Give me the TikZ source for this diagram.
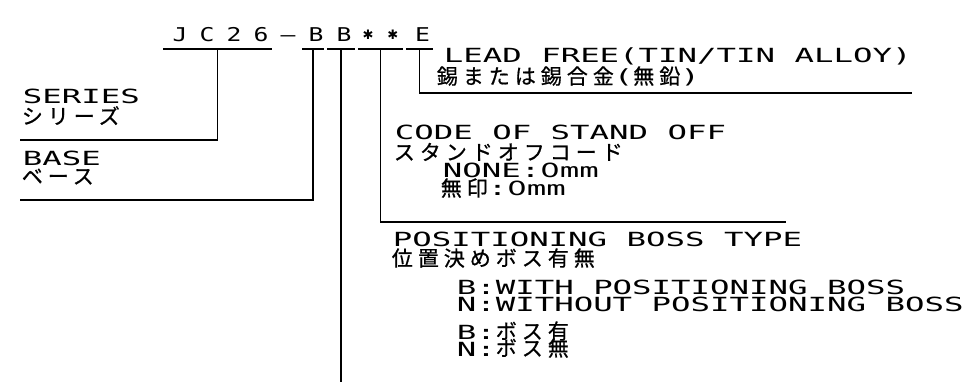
\documentclass[tikz,border=0pt]{standalone}
\usepackage{fontspec}
\setmainfont{DejaVu Sans Mono}[FakeStretch=1.66]
\newfontfamily\jp{Noto Sans CJK JP}[LetterSpace=23.8,FakeBold=0.8]
\newfontfamily\codefont{DejaVu Sans Mono}[FakeStretch=1.3,LetterSpace=64]
\newfontfamily\digitfont{DejaVu Sans}[FakeStretch=1.57]
\newfontfamily\starfont{DejaVu Sans}
\usetikzlibrary{positioning}

\begin{document}
\begin{tikzpicture}[x=1pt,y=-1pt,line width=1.7pt,
    lbl/.style={anchor=base west,inner sep=0pt,font=\fontsize{19.5}{24}\selectfont},
    jlbl/.style={lbl,font=\fontsize{21}{24}\selectfont},
    part/.style={anchor=base,inner sep=0pt,text depth=6pt,font=\fontsize{19}{22}\selectfont\codefont}]
    \useasboundingbox (0,0) rectangle (970,382);
    % part number
    \node[part] (jc) at (217.5,42) {\kern6pt JC26};
    \node[part] (dash) at (285,42) {\kern6pt —};
    \node[part] (b1) at (313,42) {\kern6pt B};
    \node[part] (b2) at (341,42) {\kern6pt B};
    \node[part] (st) at (380.5,42) {\starfont\fontsize{13}{13}\selectfont\raisebox{2pt}{✱\hspace{14pt}✱}};
    \node[part] (e) at (419.5,42) {\kern6pt E};
    \draw (jc.south) +(-54.5,0) -- +(54.5,0);
    \draw (b1.south) +(-11,0) -- +(11,0);
    \draw (b2.south) +(-14,0) -- +(14,0);
    \draw (st.south) +(-22.5,0) -- +(22.5,0);
    \draw (e.south) +(-13.5,0) -- +(13.5,0);
    % leader ends
    \coordinate (serend) at (20,140);
    \coordinate (basend) at (20,200);
    \coordinate (posend) at (341,382);
    \coordinate (sofend) at (786,222);
    \coordinate (leadend) at (912,93);
    \draw (jc.south) |- (serend);
    \draw (b1.south) |- (basend);
    \draw (b2.south) -- (posend);
    \draw (st.south) |- (sofend);
    \draw (e.south) |- (leadend);
    % labels
    \node[lbl] (ser1) at (22,104) {SERIES};
    \node[jlbl] (ser2) at (21,124) {\jp シリーズ};
    \node[lbl] (base1) at (22,166) {BASE};
    \node[jlbl] (base2) at (21,184) {\jp ベース};
    \node[lbl] (lead1) at (443,63) {LEAD FREE(TIN/TIN ALLOY)};
    \node[jlbl] (lead2) at (436,84) {{\jp 錫または錫合金}\fontsize{19.5}{24}\selectfont({\jp\fontsize{21}{24}\selectfont 無鉛})};
    \node[lbl] (sof1) at (394,140) {CODE OF STAND OFF};
    \node[jlbl] (sof2) at (393,160) {\jp スタンドオフコード};
    \node[lbl] (sof3) at (442,178) {NONE:{\digitfont 0}mm};
    \node[lbl] (sof4) at (440,196) {{\jp\fontsize{21}{24}\selectfont 無印}:{\digitfont 0}mm};
    \node[lbl] (pos1) at (392,247) {POSITIONING BOSS TYPE};
    \node[jlbl] (pos2) at (391,266) {\jp 位置決めボス有無};
    \node[lbl] (pos3) at (456,295) {B:WITH POSITIONING BOSS};
    \node[lbl] (pos4) at (456,311.5) {N:WITHOUT POSITIONING BOSS};
    \node[lbl] (pos5) at (456,339) {B:{\jp\fontsize{21}{24}\selectfont ボス有}};
    \node[lbl] (pos6) at (456,356) {N:{\jp\fontsize{21}{24}\selectfont ボス無}};
\end{tikzpicture}
\end{document}
